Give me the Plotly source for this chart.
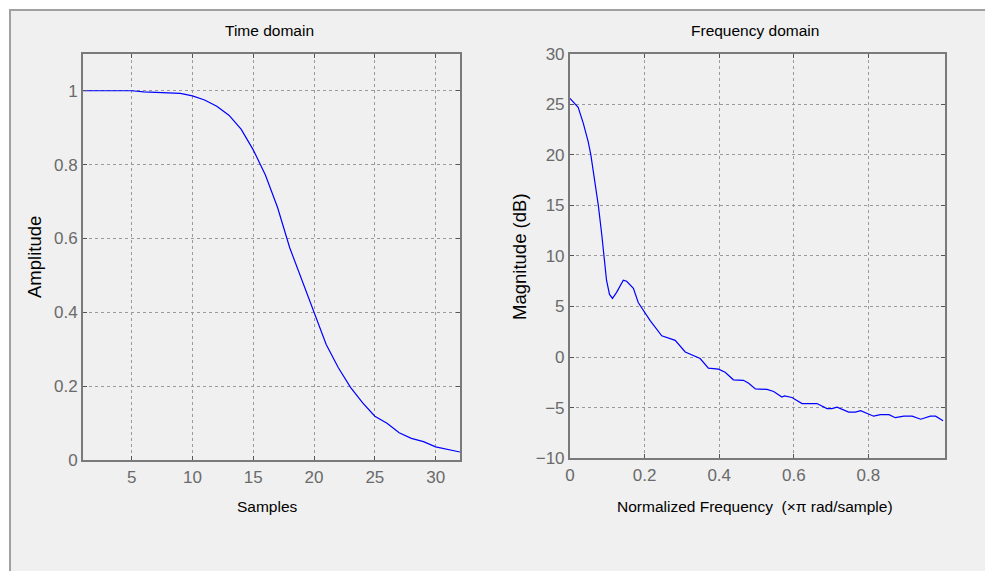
import plotly.graph_objects as go

# ---- data ----
samples = list(range(1, 33))
amplitude = [1.0, 1.0, 1.0, 1.0, 1.0, 0.997, 0.995, 0.995, 0.993, 0.986,
             0.975, 0.958, 0.934, 0.896, 0.84, 0.772, 0.684, 0.575, 0.487, 0.40,
             0.313, 0.25, 0.197, 0.155, 0.119, 0.10, 0.074, 0.059, 0.05, 0.036,
             0.029, 0.022]

freq = [0.0, 0.022, 0.036, 0.049, 0.056, 0.067, 0.076, 0.085, 0.092, 0.098,
        0.106, 0.114, 0.125, 0.143, 0.152, 0.170, 0.183, 0.197, 0.215, 0.246,
        0.268, 0.282, 0.309, 0.336, 0.349, 0.371, 0.398, 0.416, 0.438, 0.465,
        0.479, 0.497, 0.528, 0.546, 0.568, 0.575, 0.582, 0.595, 0.622, 0.662,
        0.689, 0.702, 0.716, 0.747, 0.765, 0.779, 0.814, 0.832, 0.855, 0.872,
        0.895, 0.917, 0.940, 0.966, 0.980, 1.0]
magnitude = [25.6, 24.7, 23.1, 21.3, 20.0, 17.3, 15.0, 12.2, 10.0, 7.6,
             6.2, 5.8, 6.4, 7.6, 7.5, 6.8, 5.4, 4.6, 3.6, 2.1,
             1.85, 1.65, 0.5, 0.05, -0.15, -1.1, -1.2, -1.5, -2.25, -2.3,
             -2.6, -3.15, -3.2, -3.4, -3.95, -3.85, -3.9, -4.0, -4.6, -4.6,
             -5.1, -5.1, -4.95, -5.45, -5.45, -5.3, -5.85, -5.7, -5.7, -6.0,
             -5.85, -5.85, -6.15, -5.85, -5.85, -6.3]

time_ticks = [5, 10, 15, 20, 25, 30]
amp_ticks = [0, 0.2, 0.4, 0.6, 0.8, 1]
amp_labels = ["0", "0.2", "0.4", "0.6", "0.8", "1"]
freq_ticks = [0, 0.2, 0.4, 0.6, 0.8]
freq_labels = ["0", "0.2", "0.4", "0.6", "0.8"]
mag_ticks = [-10, -5, 0, 5, 10, 15, 20, 25, 30]

W, H = 985, 571
# empirical correction between page pixels and the photographed picture
SX, OX = 0.995, 5.0
SY, OY = 0.966, 8.2


def px(x):
    return ((x - OX) / SX) / W


def py(y):
    return 1 - ((y - OY) / SY) / H


FONT = "Arial, Liberation Sans, sans-serif"
TICKFONT = dict(family=FONT, size=17, color="#6a6a6a")
LABFONT = dict(family=FONT, size=15.5, color="#000000")
VLABFONT = dict(family=FONT, size=18.5, color="#000000")

fig = go.Figure()
fig.add_trace(go.Scatter(x=samples, y=amplitude, mode="lines",
                         line=dict(color="#0000ff", width=1.2),
                         xaxis="x", yaxis="y", showlegend=False, hoverinfo="skip"))
fig.add_trace(go.Scatter(x=freq, y=magnitude, mode="lines",
                         line=dict(color="#0000ff", width=1.2),
                         xaxis="x2", yaxis="y2", showlegend=False, hoverinfo="skip"))

axis_common = dict(showline=True, linecolor="#7a7a7a", linewidth=2, mirror="ticks",
                   ticks="inside", ticklen=4, tickcolor="#555555", tickwidth=1,
                   showgrid=True, gridcolor="#9a9a9a", griddash="dot", gridwidth=1,
                   zeroline=False, tickfont=TICKFONT, fixedrange=True)

fig.update_layout(
    width=W, height=H,
    margin=dict(l=0, r=0, t=0, b=0),
    paper_bgcolor="#ffffff",
    plot_bgcolor="#ffffff",
    xaxis=dict(domain=[px(83), px(460)], range=[1, 32], tickvals=time_ticks,
               anchor="y", **axis_common),
    yaxis=dict(domain=[py(459), py(53)], range=[0, 1.1], tickvals=amp_ticks,
               ticktext=amp_labels, anchor="x", **axis_common),
    xaxis2=dict(domain=[px(570), px(945)], range=[0, 1.005], tickvals=freq_ticks,
                ticktext=freq_labels, anchor="y2", **axis_common),
    yaxis2=dict(domain=[py(457), py(53)], range=[-10, 30], tickvals=mag_ticks,
                anchor="x2", **axis_common),
    shapes=[dict(type="rect", xref="paper", yref="paper",
                 x0=max(px(10), 0.002), x1=1.05, y0=-0.05, y1=min(py(7), 0.998),
                 fillcolor="#f0f0f0", line=dict(color="#a0a0a0", width=2),
                 layer="below")],
)


def ann(text, x, y, angle=0, font=LABFONT):
    fig.add_annotation(text=text, xref="paper", yref="paper", x=px(x), y=py(y),
                       xanchor="center", yanchor="middle", showarrow=False,
                       textangle=angle, font=font)


ann("Time domain", 270, 30)
ann("Frequency domain", 755, 30)
ann("Samples", 268, 505)
ann("Normalized Frequency  (×π rad/sample)", 755, 505)
ann("Amplitude", 35, 256, -90, VLABFONT)
ann("Magnitude (dB)", 520, 256, -90, VLABFONT)

fig.write_html(
    "out.html",
    config={"displayModeBar": False},
    post_script=(
        "document.body.style.margin='0';"
        "document.body.style.overflow='hidden';"
        "document.documentElement.style.overflow='hidden';"
    ),
)
